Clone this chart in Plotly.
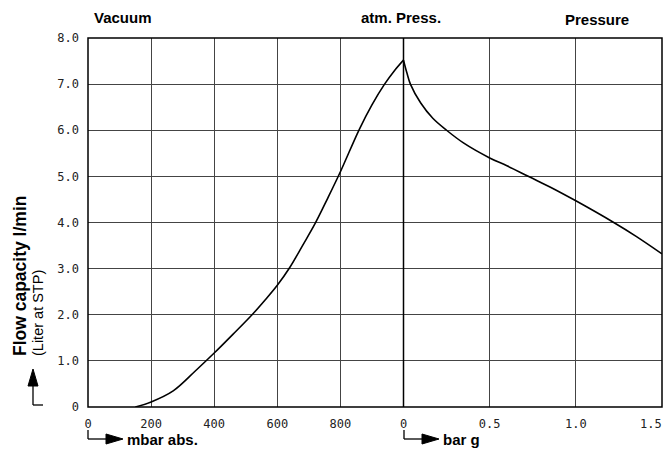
import plotly.graph_objects as go

# ---- data ----
vac_mbar = [150, 200, 270, 340, 400, 460, 520, 560, 600, 640, 680, 720, 760, 800, 860, 900, 940, 970, 1000]
vac_flow = [0.0, 0.11, 0.35, 0.78, 1.17, 1.58, 2.0, 2.31, 2.64, 3.03, 3.5, 3.98, 4.53, 5.1, 6.02, 6.55, 7.0, 7.28, 7.52]

press_bar = [0.0, 0.02, 0.04, 0.1, 0.17, 0.25, 0.35, 0.5, 0.6, 0.73, 0.85, 1.0, 1.22, 1.35, 1.5]
press_flow = [7.52, 7.24, 7.0, 6.59, 6.26, 6.0, 5.72, 5.40, 5.23, 4.99, 4.77, 4.47, 4.0, 3.7, 3.32]

vac_ticks = [0, 200, 400, 600, 800]
vac_ticktext = ["0", "200", "400", "600", "800"]
press_ticks = [0, 0.5, 1.0, 1.5]
press_ticktext = ["0", "0.5", "1.0", "1.5"]
y_ticks = [0, 1, 2, 3, 4, 5, 6, 7, 8]
y_ticktext = ["0", "1.0", "2.0", "3.0", "4.0", "5.0", "6.0", "7.0", "8.0"]

W, H = 671, 469
L, R, T, B = 88, 9, 38, 62
PW, PH = W - L - R, H - T - B
split = (403.5 - L) / PW

def px(x):
    return (x - L) / PW

def py(y):
    return (H - B - y) / PH

fig = go.Figure()
fig.add_trace(go.Scatter(x=vac_mbar, y=vac_flow, mode="lines", xaxis="x", yaxis="y",
                         line=dict(color="black", width=1.6, shape="spline", smoothing=1.0),
                         showlegend=False, hoverinfo="skip"))
fig.add_trace(go.Scatter(x=press_bar, y=press_flow, mode="lines", xaxis="x2", yaxis="y",
                         line=dict(color="black", width=1.6, shape="spline", smoothing=1.0),
                         showlegend=False, hoverinfo="skip"))

tickfont = dict(family="DejaVu Sans Mono", size=12, color="#222")
grid = dict(showgrid=True, gridcolor="#444", gridwidth=1, zeroline=False, showline=False,
            ticks="", tickfont=tickfont, fixedrange=True, automargin=False)

shapes = [
    dict(type="rect", xref="paper", yref="paper", x0=0, x1=1, y0=0, y1=1,
         line=dict(color="black", width=1.5)),
    dict(type="line", xref="paper", yref="paper", x0=split, x1=split, y0=0, y1=1,
         line=dict(color="black", width=1.5)),
]

blk = dict(color="black", width=1.3)
# y-axis arrow: up arrow with L foot
ax_x, ax_top, ax_bot, ax_foot = 33, 386, 405, 43
shapes += [
    dict(type="line", xref="paper", yref="paper", x0=px(ax_x), x1=px(ax_x), y0=py(ax_bot), y1=py(ax_top), line=blk),
    dict(type="line", xref="paper", yref="paper", x0=px(ax_x), x1=px(ax_foot), y0=py(ax_bot), y1=py(ax_bot), line=blk),
    dict(type="path", xref="paper", yref="paper", fillcolor="black", line=dict(color="black", width=1),
         path=f"M {px(ax_x-5)} {py(ax_top)} L {px(ax_x+5)} {py(ax_top)} L {px(ax_x)} {py(ax_top-17)} Z"),
]
# x-axis arrows
annotations = []
for x0, label in [(88, "mbar abs."), (404, "bar g")]:
    yy = 439
    shapes += [
        dict(type="line", xref="paper", yref="paper", x0=px(x0), x1=px(x0), y0=py(yy - 9), y1=py(yy), line=blk),
        dict(type="line", xref="paper", yref="paper", x0=px(x0), x1=px(x0 + 18), y0=py(yy), y1=py(yy), line=blk),
        dict(type="path", xref="paper", yref="paper", fillcolor="black", line=dict(color="black", width=1),
             path=f"M {px(x0+18)} {py(yy-5)} L {px(x0+18)} {py(yy+5)} L {px(x0+35)} {py(yy)} Z"),
    ]
    annotations.append(dict(text=f"<b>{label}</b>", xref="paper", yref="paper", x=px(x0 + 37), y=py(yy),
                            xanchor="left", yanchor="middle", showarrow=False,
                            font=dict(family="Liberation Sans", size=15, color="black")))

# last pressure tick label, right-aligned at the frame edge like the reference
annotations.append(dict(text=press_ticktext[-1], xref="x2", yref="paper", x=press_ticks[-1], y=0,
                        xanchor="right", yanchor="top", yshift=-8, xshift=2, showarrow=False,
                        font=tickfont))

hdr = dict(family="Liberation Sans", size=15, color="black")
annotations += [
    dict(text="<b>Vacuum</b>", xref="paper", yref="paper", x=px(92), y=py(18), xanchor="left",
         yanchor="middle", showarrow=False, font=hdr),
    dict(text="<b>atm. Press.</b>", xref="paper", yref="paper", x=px(401), y=py(18), xanchor="center",
         yanchor="middle", showarrow=False, font=hdr),
    dict(text="<b>Pressure</b>", xref="paper", yref="paper", x=px(597), y=py(19), xanchor="center",
         yanchor="middle", showarrow=False, font=hdr),
    dict(text="<b>Flow capacity l/min</b>", xref="paper", yref="paper", x=px(20), y=py(358), xanchor="center",
         yanchor="bottom", textangle=-90, showarrow=False,
         font=dict(family="Liberation Sans", size=17.5, color="black")),
    dict(text="(Liter at STP)", xref="paper", yref="paper", x=px(38), y=py(358), xanchor="center",
         yanchor="bottom", textangle=-90, showarrow=False,
         font=dict(family="Liberation Sans", size=14.5, color="black")),
]

fig.update_layout(
    width=W, height=H, margin=dict(l=L, r=R, t=T, b=B, autoexpand=False),
    plot_bgcolor="white", paper_bgcolor="white", hovermode=False,
    xaxis=dict(domain=[0, split], range=[0, 1000], tickvals=vac_ticks, ticktext=vac_ticktext,
               anchor="y", ticklabelstandoff=8, **grid),
    xaxis2=dict(domain=[split, 1], range=[0, 1.5], tickvals=press_ticks,
                ticktext=press_ticktext[:-1] + [""],
                anchor="y", ticklabelstandoff=8, **grid),
    yaxis=dict(range=[0, 8], tickvals=y_ticks, ticktext=y_ticktext, anchor="x",
               ticklabelstandoff=8, **grid),
    shapes=shapes, annotations=annotations,
)

fig.write_html("out.html", config={"displayModeBar": False, "staticPlot": True},
               post_script="document.body.style.margin='0';document.body.style.overflow='hidden';")
